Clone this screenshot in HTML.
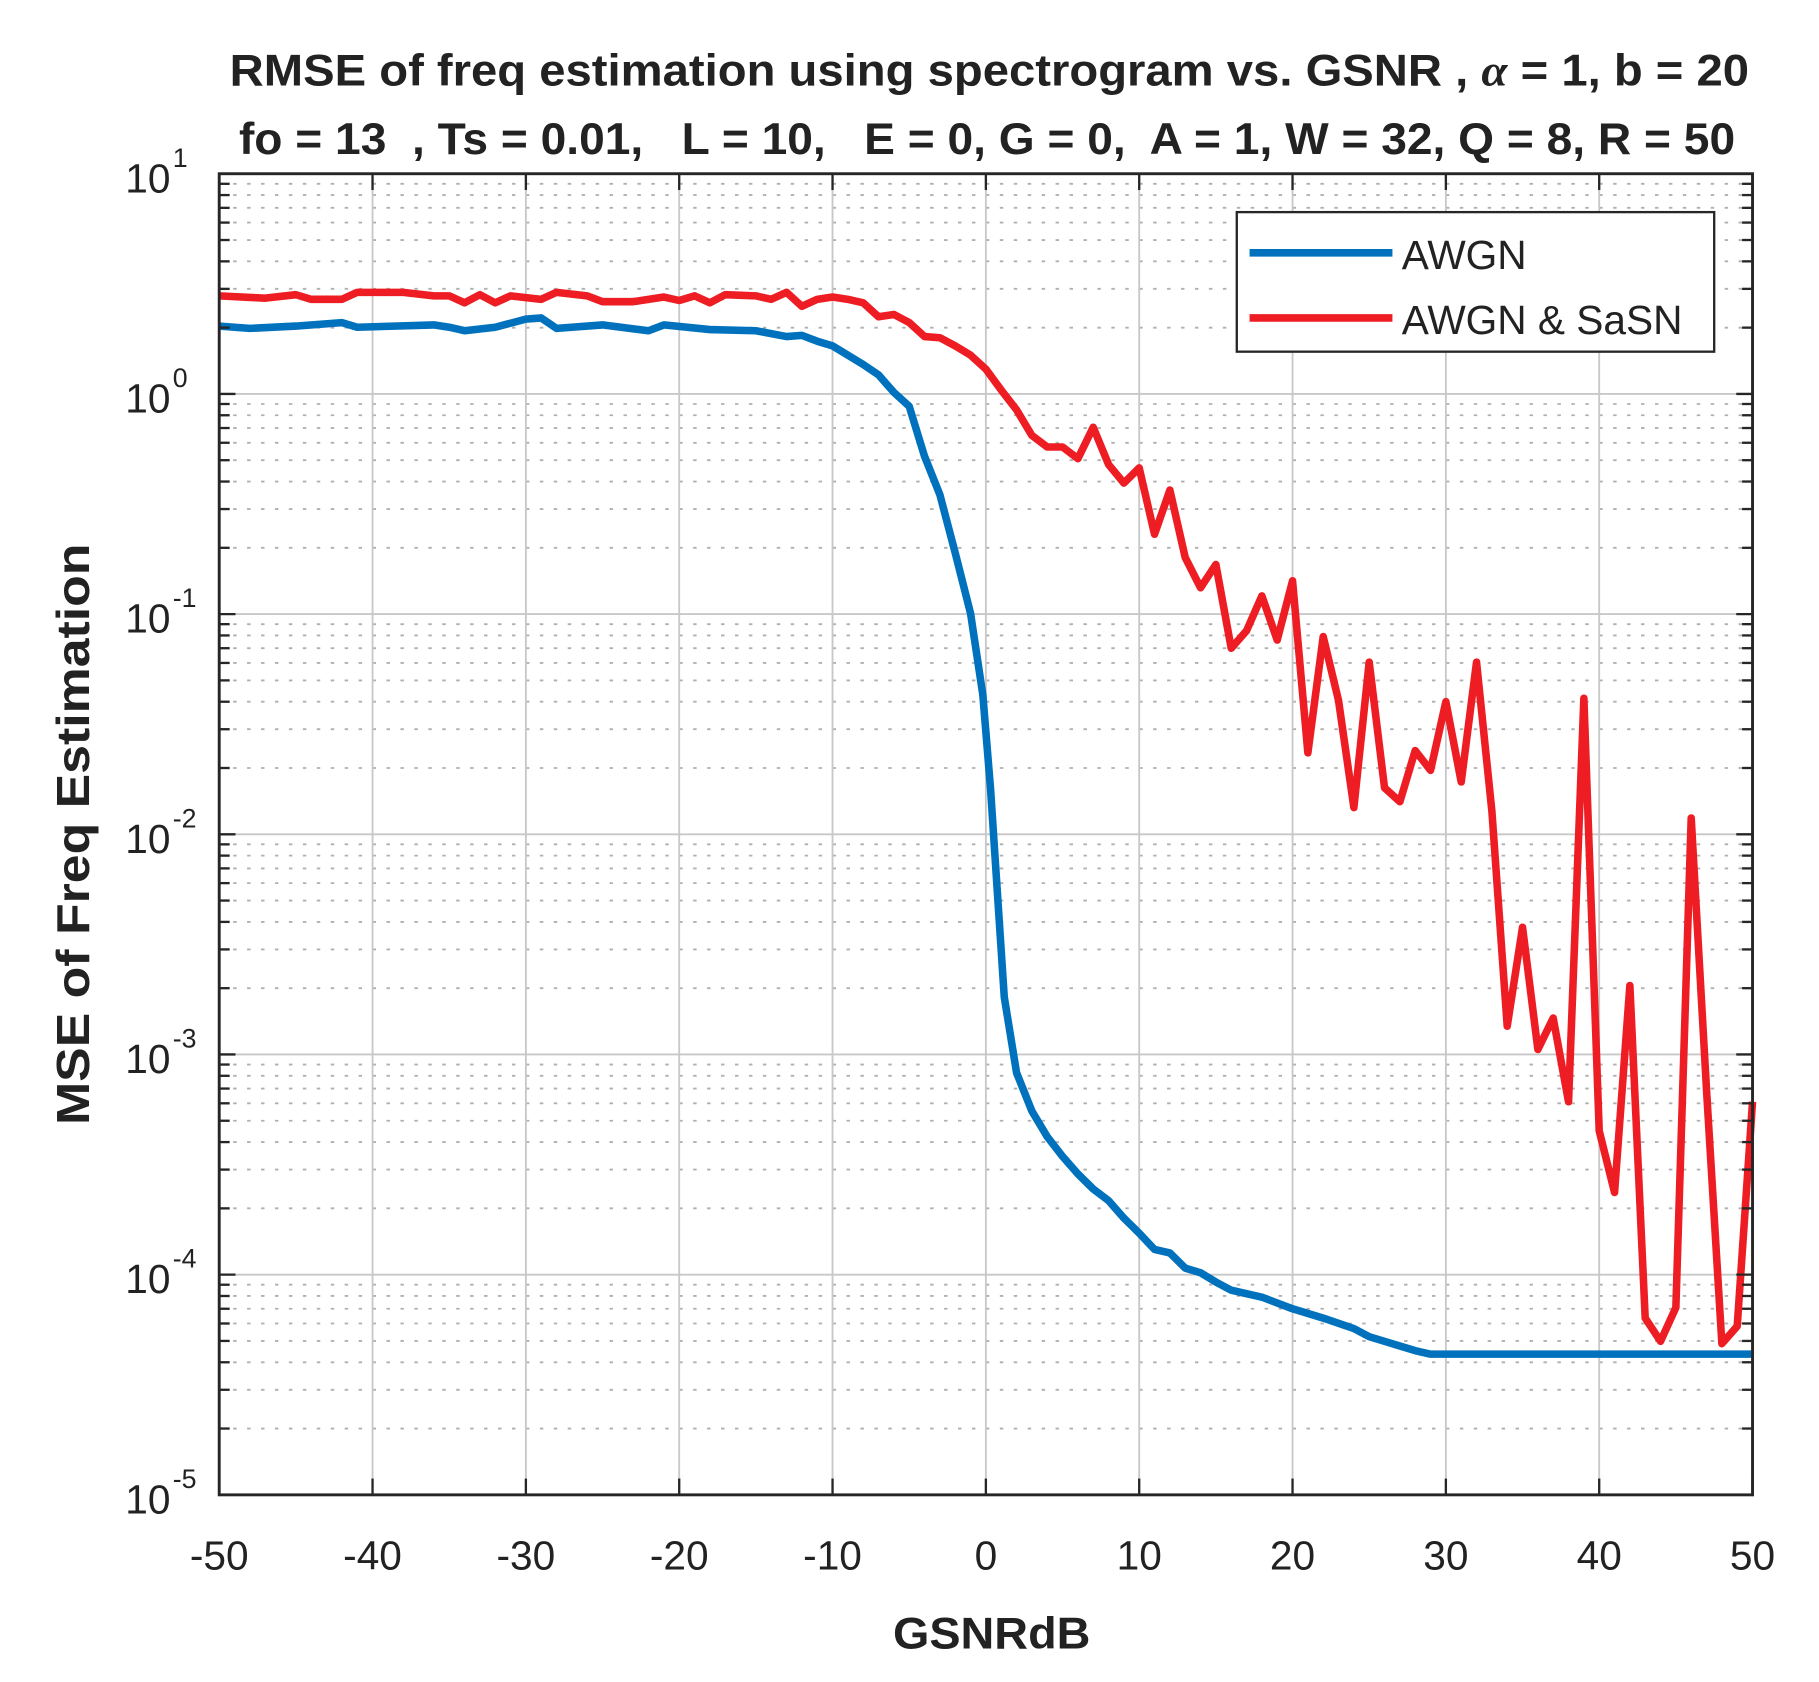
<!DOCTYPE html>
<html><head><meta charset="utf-8"><style>
html,body{margin:0;padding:0;background:#fff}
svg{display:block}
text{font-family:"Liberation Sans",Arial,sans-serif;fill:#222;white-space:pre}
</style></head><body>
<svg id="s" width="1819" height="1682" viewBox="0 0 1560 1442.5" preserveAspectRatio="none" xmlns="http://www.w3.org/2000/svg" xml:space="preserve">
<rect width="1560" height="1442.5" fill="#fff"/>
<g transform="matrix(0.99621 0 0 0.99736 -1.28 -2.6)">
<g id="grid"></g>
<g id="lines"></g>
<rect x="190" y="152" width="1320" height="1136" fill="none" stroke="#262626" stroke-width="2.5"/>
<g id="ticks"></g>
<g id="labels"></g>
<text x="853" y="76" text-anchor="middle" font-size="38" font-weight="bold" fill="#000" textLength="1308" lengthAdjust="spacingAndGlyphs">RMSE of freq estimation using spectrogram vs. GSNR , <tspan font-family="Liberation Serif" font-style="italic">α</tspan> = 1, b = 20</text>
<text x="851" y="135" text-anchor="middle" font-size="38" font-weight="bold" fill="#000" textLength="1288" lengthAdjust="spacingAndGlyphs">fo = 13  , Ts = 0.01,   L = 10,   E = 0, G = 0,  A = 1, W = 32, Q = 8, R = 50</text>
<text x="855" y="1420" text-anchor="middle" font-size="38" font-weight="bold" textLength="170" lengthAdjust="spacingAndGlyphs">GSNRdB</text>
<text transform="translate(78,720) rotate(-90)" text-anchor="middle" font-size="40" font-weight="bold" textLength="500" lengthAdjust="spacingAndGlyphs">MSE of Freq Estimation</text>
<rect x="1066" y="185" width="411" height="120" fill="#fff" stroke="#262626" stroke-width="2"/>
<line x1="1077" y1="220" x2="1200" y2="220" stroke="#0072bd" stroke-width="6.5"/>
<line x1="1077" y1="276" x2="1200" y2="276" stroke="#ee1d23" stroke-width="6.5"/>
<text x="1208" y="234" font-size="35">AWGN</text>
<text x="1208" y="290" font-size="35">AWGN &amp; SaSN</text>
</g>
</svg>
<script>
var NS="http://www.w3.org/2000/svg";
function el(p,t,a,txt){var e=document.createElementNS(NS,t);for(var k in a)e.setAttribute(k,a[k]);if(txt!=null)e.textContent=txt;document.getElementById(p).appendChild(e);return e;}
var L=190,R=1510,T=152,B=1288,D=189.33;
for(var d=0;d<6;d++){var yb=T+D*(d+1);
 for(var m=2;m<=9;m++){var y=yb-D*Math.log10(m);
  el("grid","line",{x1:L,x2:R,y1:y,y2:y,stroke:"#b0b0b0","stroke-width":1.6,"stroke-dasharray":"3,9"});
  el("ticks","line",{x1:L,x2:L+9,y1:y,y2:y,stroke:"#262626","stroke-width":2});
  el("ticks","line",{x1:R,x2:R-9,y1:y,y2:y,stroke:"#262626","stroke-width":2});
 }}
for(var d=0;d<=6;d++){var y=T+D*d;
 if(d>0&&d<6)el("grid","line",{x1:L,x2:R,y1:y,y2:y,stroke:"#c8c8c8","stroke-width":1.6});
 el("ticks","line",{x1:L,x2:L+14,y1:y,y2:y,stroke:"#262626","stroke-width":2});
 el("ticks","line",{x1:R,x2:R-14,y1:y,y2:y,stroke:"#262626","stroke-width":2});
 el("labels","text",{x:148,y:y+16,"text-anchor":"end","font-size":35},"10");
 el("labels","text",{x:150,y:y-6,"text-anchor":"start","font-size":23},String(1-d));
}
for(var i=0;i<=10;i++){var x=L+132*i;
 if(i>0&&i<10)el("grid","line",{x1:x,x2:x,y1:T,y2:B,stroke:"#c8c8c8","stroke-width":1.6});
 el("ticks","line",{x1:x,x2:x,y1:B,y2:B-14,stroke:"#262626","stroke-width":2});
 el("ticks","line",{x1:x,x2:x,y1:T,y2:T+14,stroke:"#262626","stroke-width":2});
 el("labels","text",{x:x,y:1352,"text-anchor":"middle","font-size":35},String(-50+10*i));
}
function X(v){return L+13.2*(v+50);}
var blue=[[-50,283],[-48,285],[-45,283],[-42,280],[-41,284],[-36,282],[-35,284],[-34,287],[-32,284],[-30,277],[-29,276],[-28,285],[-25,282],[-22,287],[-21,282],[-18,286],[-15,287],[-13,292],[-12,291],[-11,296],[-10,300],[-8,316],[-7,325],[-6,340],[-5,352],[-4,395],[-3,428],[-2,478],[-1,530],[-0.2,600],[0.3,680],[0.8,780],[1.2,860],[2,925],[3,958],[4,980],[5,997],[6,1012],[7,1025],[8,1035],[9,1050],[10,1063],[11,1077],[12,1080],[13,1093],[14,1097],[15,1105],[16,1112],[18,1118],[20,1128],[22,1136],[24,1145],[25,1152],[27,1160],[28,1164],[29,1167],[50,1167]];
var red=[[-50,257],[-47,259],[-45,256],[-44,260],[-42,260],[-41,254],[-38,254],[-36,257],[-35,257],[-34,263],[-33,256],[-32,263],[-31,257],[-29,260],[-28,254],[-26,257],[-25,262],[-23,262],[-21,258],[-20,261],[-19,257],[-18,263],[-17,256],[-15,257],[-14,260],[-13,254],[-12,266],[-11,260],[-10,258],[-9,260],[-8,263],[-7,275],[-6,273],[-5,280],[-4,292],[-3,293],[-2,300],[-1,308],[0,320],[1,338],[2,355],[3,377],[4,387],[5,387],[6,397],[7,370],[8,402],[9,418],[10,405],[11,462],[12,424],[13,482],[14,508],[15,488],[16,560],[17,545],[18,515],[19,553],[20,502],[21,650],[22,550],[23,605],[24,697],[25,572],[26,680],[27,692],[28,648],[29,665],[30,606],[31,675],[32,572],[33,700],[34,885],[35,800],[36,905],[37,878],[38,950],[39,603],[40,975],[41,1028],[42,850],[43,1136],[44,1156],[45,1127],[46,706],[47,940],[48,1158],[49,1143],[50,950]];
function pl(d,c){el("lines","polyline",{points:d.map(function(p){return X(p[0])+","+p[1]}).join(" "),fill:"none",stroke:c,"stroke-width":6.5,"stroke-linejoin":"round"});}
pl(blue,"#0072bd");pl(red,"#ee1d23");
</script>
</body></html>
